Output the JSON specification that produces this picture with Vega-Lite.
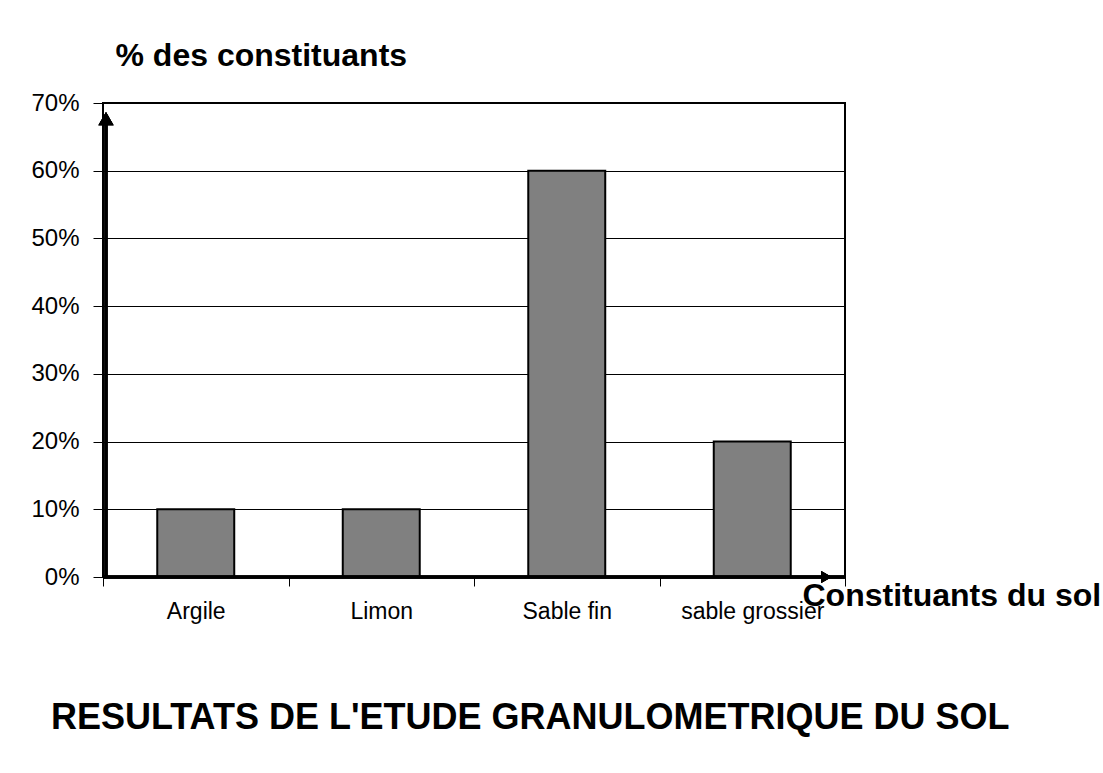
{
  "$schema": "https://vega.github.io/schema/vega-lite/v6.json",
  "autosize": "none",
  "width": 742,
  "height": 474,
  "padding": {"left": 103, "top": 103, "right": 258, "bottom": 196},
  "background": "white",
  "title": {
    "text": "RESULTATS DE L'ETUDE GRANULOMETRIQUE DU SOL",
    "orient": "bottom",
    "anchor": "start",
    "dx": 20,
    "offset": 78,
    "font": "Liberation Sans",
    "fontSize": 36,
    "fontWeight": "bold",
    "color": "black"
  },
  "data": {
    "values": [
      {"constituant": "Argile", "pourcentage": 0.1},
      {"constituant": "Limon", "pourcentage": 0.1},
      {"constituant": "Sable fin", "pourcentage": 0.6},
      {"constituant": "sable grossier", "pourcentage": 0.2}
    ]
  },
  "config": {
    "view": {"stroke": "black", "strokeWidth": 2},
    "font": "Liberation Sans",
    "axis": {
      "domainColor": "black",
      "tickColor": "black",
      "labelColor": "black",
      "titleColor": "black",
      "labelFont": "Liberation Sans",
      "titleFont": "Liberation Sans"
    }
  },
  "layer": [
    {
      "mark": {"type": "bar", "color": "#808080", "stroke": "black", "strokeWidth": 2, "width": {"band": 0.415}},
      "encoding": {
        "x": {
          "field": "constituant",
          "type": "nominal",
          "sort": null,
          "scale": {"paddingInner": 0, "paddingOuter": 0},
          "axis": {
            "title": "Constituants du sol",
            "titleFontSize": 32,
            "titleFontWeight": "bold",
            "titleAlign": "left",
            "titleBaseline": "middle",
            "titleAnchor": null,
            "titleX": 699,
            "titleY": 18,
            "labelAngle": 0,
            "labelFontSize": 23,
            "labelPadding": 14,
            "tickBand": "extent",
            "tickSize": 9,
            "tickWidth": 1,
            "domainWidth": 2,
            "grid": false
          }
        },
        "y": {
          "field": "pourcentage",
          "type": "quantitative",
          "scale": {"domain": [0, 0.7]},
          "axis": {
            "title": "% des constituants",
            "titleFontSize": 32,
            "titleFontWeight": "bold",
            "titleAngle": 0,
            "titleAlign": "left",
            "titleBaseline": "middle",
            "titleAnchor": null,
            "titleX": 12,
            "titleY": -48,
            "values": [0, 0.1, 0.2, 0.3, 0.4, 0.5, 0.6, 0.7],
            "format": ".0%",
            "labelFontSize": 24,
            "labelPadding": 14,
            "tickSize": 10,
            "tickWidth": 1,
            "domainWidth": 1,
            "grid": true,
            "gridColor": "black",
            "gridWidth": 1,
            "gridOpacity": 1
          }
        }
      }
    },
    {
      "mark": {"type": "rule", "color": "black", "strokeWidth": 3, "xOffset": 3},
      "encoding": {
        "x": {"datum": "Argile", "bandPosition": 0},
        "y": {"datum": 0},
        "y2": {"datum": 0.675}
      }
    },
    {
      "mark": {"type": "point", "shape": "triangle-up", "filled": true, "color": "black", "opacity": 1, "size": 230, "xOffset": 3},
      "encoding": {
        "x": {"datum": "Argile", "bandPosition": 0},
        "y": {"datum": 0.677}
      }
    },
    {
      "mark": {"type": "rule", "color": "black", "strokeWidth": 3},
      "encoding": {
        "y": {"datum": 0}
      }
    },
    {
      "mark": {"type": "point", "shape": "triangle-right", "filled": true, "color": "black", "opacity": 1, "size": 150},
      "encoding": {
        "x": {"datum": "sable grossier", "bandPosition": 0.9},
        "y": {"datum": 0}
      }
    }
  ]
}
